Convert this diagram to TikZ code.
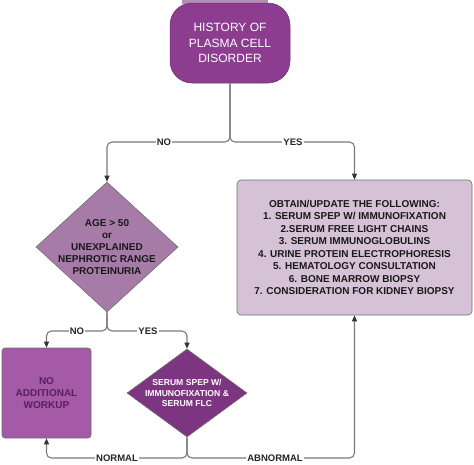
\documentclass[tikz,border=0pt]{standalone}
\usepackage{fontspec}
\setmainfont{Liberation Sans}
\usetikzlibrary{shapes.geometric,arrows.meta}
\definecolor{topc}{HTML}{8C3D8F}
\definecolor{dia1}{HTML}{A67BA8}
\definecolor{nwc}{HTML}{A45AA6}
\definecolor{nwt}{HTML}{5B1F5E}
\definecolor{dia2}{HTML}{7E3581}
\definecolor{boxc}{HTML}{D6C2D7}
\definecolor{linec}{HTML}{7A7A7A}
\definecolor{edgec}{HTML}{707070}
\begin{document}
\begin{tikzpicture}[x=1pt,y=-1pt,
  conn/.style={draw=linec,line width=1.1pt,rounded corners=5pt,-{Triangle[length=6pt,width=5pt,fill=black!80,color=black!80]}},
  lbl/.style={fill=white,inner sep=1pt,font=\bfseries\fontsize{9.5}{11}\selectfont,text=black!85},
  dshape/.style={diamond,inner sep=0pt,draw=edgec,line width=0.6pt}
]
\useasboundingbox (0,0) rectangle (474,464);
% light strip at very top
\fill[dia1!85] (182,0) rectangle (268,4);
% top node
\node[draw=topc!80!black,line width=0.5pt,fill=topc,rounded corners=22pt,minimum width=120pt,minimum height=80pt,inner sep=0pt,
  text=white,align=center,font=\fontsize{12}{15.5}\selectfont] (top) at (230,43) {HISTORY OF\\PLASMA CELL\\DISORDER};
% diamond 1
\node[dshape,fill=dia1,minimum width=142pt,minimum height=130pt] (d1) at (107,247) {};
\node[align=center,font=\bfseries\fontsize{10}{12}\selectfont,text=black!90] (d1t) at (d1.center) {AGE > 50\\or\\UNEXPLAINED\\NEPHROTIC RANGE\\PROTEINURIA};
% big box
\node[draw=edgec,line width=0.6pt,fill=boxc,rounded corners=4pt,minimum width=235pt,minimum height=135pt,inner sep=0pt,
  align=center,font=\bfseries\fontsize{10}{12.5}\selectfont,text=black!90] (box) at (354.5,247.5)
  {OBTAIN/UPDATE THE FOLLOWING:\\1. SERUM SPEP W/ IMMUNOFIXATION\\2.SERUM FREE LIGHT CHAINS\\3. SERUM IMMUNOGLOBULINS\\4. URINE PROTEIN ELECTROPHORESIS\\5. HEMATOLOGY CONSULTATION\\6. BONE MARROW BIOPSY\\7. CONSIDERATION FOR KIDNEY BIOPSY};
% no additional workup
\node[draw=edgec,line width=0.6pt,fill=nwc,rounded corners=3pt,minimum width=89pt,minimum height=90pt,inner sep=0pt,
  align=center,font=\bfseries\fontsize{10}{12}\selectfont,text=nwt] (nw) at (46.5,393) {NO\\ADDITIONAL\\WORKUP};
% diamond 2
\node[dshape,fill=dia2,minimum width=120pt,minimum height=88pt] (d2) at (187,393) {};
\node[align=center,font=\bfseries\fontsize{8.6}{10.5}\selectfont,text=white] (d2t) at (d2.center) {SERUM SPEP W/\\IMMUNOFIXATION \&\\SERUM FLC};
% junction coordinates
\coordinate (j1) at (230,142);
\coordinate (j2) at (107,331);
\coordinate (j3) at (187,458);
% connectors
\path[conn] (top.south) -- (j1) -| (d1.north);
\path[conn] (top.south) -- (j1) -| (box.north);
\path[conn] (d1.south) -- (j2) -| (nw.north);
\path[conn] (d1.south) -- (j2) -| (d2.north);
\path[conn] (d2.south) -- (j3) -| (nw.south);
\path[conn] (d2.south) -- (j3) -| (box.south);
% labels
\node[lbl] (l1) at (164,142) {NO};
\node[lbl] (l2) at (293,142) {YES};
\node[lbl] (l3) at (77,331) {NO};
\node[lbl] (l4) at (148,331) {YES};
\node[lbl] (l5) at (117,458) {NORMAL};
\node[lbl] (l6) at (275,458) {ABNORMAL};
\end{tikzpicture}
\end{document}
